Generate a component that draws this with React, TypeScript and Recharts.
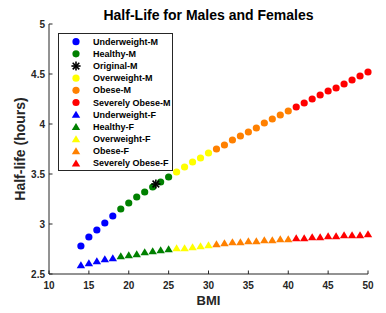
import React from 'react';
import { ScatterChart, Scatter, XAxis, YAxis } from 'recharts';

// BMI values 14..50
const bmi = [14, 15, 16, 17, 18, 19, 20, 21, 22, 23, 24, 25, 26, 27, 28, 29, 30, 31, 32, 33, 34, 35, 36, 37, 38, 39, 40, 41, 42, 43, 44, 45, 46, 47, 48, 49, 50];
const maleHalfLife = [2.78, 2.87, 2.94, 3.01, 3.08, 3.15, 3.21, 3.27, 3.32, 3.37, 3.42, 3.47, 3.52, 3.57, 3.62, 3.66, 3.71, 3.75, 3.79, 3.84, 3.88, 3.92, 3.96, 4.01, 4.05, 4.09, 4.13, 4.17, 4.21, 4.25, 4.29, 4.33, 4.36, 4.40, 4.44, 4.48, 4.52];
const femaleHalfLife = [2.59, 2.61, 2.63, 2.65, 2.66, 2.68, 2.69, 2.70, 2.72, 2.73, 2.74, 2.75, 2.76, 2.76, 2.77, 2.78, 2.79, 2.80, 2.81, 2.82, 2.82, 2.83, 2.83, 2.84, 2.84, 2.85, 2.85, 2.86, 2.86, 2.87, 2.87, 2.88, 2.88, 2.89, 2.89, 2.89, 2.90];
const originalM = [{ bmi: 23.4, h: 3.40 }];

// Categories: name, BMI range (inclusive), colour
const categories = ['Underweight', 'Healthy', 'Overweight', 'Obese', 'Severely Obese'];
const categoryMin = [14, 19, 26, 31, 41];
const categoryMax = [18, 25, 30, 40, 50];
const categoryColors = ['#0000FF', '#008000', '#FFFF00', '#FF8000', '#FF0000'];

const xTicks = [10, 15, 20, 25, 30, 35, 40, 45, 50];
const yTicks = [2.5, 3, 3.5, 4, 4.5, 5];

const AXIS = '#262626';
const FONT = '"Liberation Sans", Arial, Helvetica, sans-serif';

const build = (vals: number[], ci: number) =>
  bmi
    .map((b, i) => ({ bmi: b, h: vals[i] }))
    .filter((d) => d.bmi >= categoryMin[ci] && d.bmi <= categoryMax[ci]);

type Shape = 'circle' | 'triangle' | 'asterisk';
interface Series { name: string; color: string; shape: Shape; data: { bmi: number; h: number }[] }

const maleSeries: Series[] = categories.map((c, i) => ({ name: `${c}-M`, color: categoryColors[i], shape: 'circle' as Shape, data: build(maleHalfLife, i) }));
const femaleSeries: Series[] = categories.map((c, i) => ({ name: `${c}-F`, color: categoryColors[i], shape: 'triangle' as Shape, data: build(femaleHalfLife, i) }));
const originalSeries: Series = { name: 'Original-M', color: '#000000', shape: 'asterisk', data: originalM };

const legendOrder: Series[] = [maleSeries[0], maleSeries[1], originalSeries, maleSeries[2], maleSeries[3], maleSeries[4], ...femaleSeries];

function Marker({ cx, cy, shape, color }: { cx: number; cy: number; shape: Shape; color: string }) {
  if (cx == null || cy == null) return null;
  if (shape === 'circle') return <circle cx={cx} cy={cy} r={3.6} fill={color} />;
  if (shape === 'triangle')
    return <polygon points={`${cx},${cy - 3.8} ${cx + 4.2},${cy + 3.2} ${cx - 4.2},${cy + 3.2}`} fill={color} />;
  const r = 4.6;
  const d = r * 0.72;
  return (
    <g stroke={color} strokeWidth={1.6}>
      <line x1={cx - r} y1={cy} x2={cx + r} y2={cy} />
      <line x1={cx} y1={cy - r} x2={cx} y2={cy + r} />
      <line x1={cx - d} y1={cy - d} x2={cx + d} y2={cy + d} />
      <line x1={cx - d} y1={cy + d} x2={cx + d} y2={cy - d} />
    </g>
  );
}

const TICK_LEN = 3.5;

const BottomTick = (p: any) => {
  const axisY = p.y - 7;
  return (
    <g>
      <line x1={p.x} y1={axisY} x2={p.x} y2={axisY - TICK_LEN} stroke={AXIS} />
      <text x={p.x} y={p.y} dy="0.75em" textAnchor="middle" fontFamily={FONT} fontWeight="bold" fontSize={10} fill={AXIS}>
        {p.payload.value}
      </text>
    </g>
  );
};
const TopTick = (p: any) => (
  <line x1={p.x} y1={p.y} x2={p.x} y2={p.y + TICK_LEN} stroke={AXIS} />
);
const LeftTick = (p: any) => {
  const axisX = p.x + 4;
  return (
    <g>
      <line x1={axisX} y1={p.y} x2={axisX + TICK_LEN} y2={p.y} stroke={AXIS} />
      <text x={p.x} y={p.y} dy="0.35em" textAnchor="end" fontFamily={FONT} fontWeight="bold" fontSize={10} fill={AXIS}>
        {p.payload.value}
      </text>
    </g>
  );
};
const RightTick = (p: any) => (
  <line x1={p.x} y1={p.y} x2={p.x - TICK_LEN} y2={p.y} stroke={AXIS} />
);

const plotSeries: Series[] = [maleSeries[0], maleSeries[1], maleSeries[2], maleSeries[3], maleSeries[4], ...femaleSeries, originalSeries];

export default function App() {
  const legendX = 58.5;
  const legendY = 33.5;
  const legendW = 114;
  const legendH = 137;
  const rowH = 12.16;
  return (
    <div style={{ position: 'absolute', left: 0, top: 0, width: 386, height: 313, background: '#fff' }}>
      <ScatterChart width={386} height={313} margin={{ top: 24, right: 18, bottom: 0, left: 0 }}>
        <XAxis
          dataKey="bmi"
          type="number"
          domain={[10, 50]}
          ticks={xTicks}
          height={39}
          tickSize={0}
          tickMargin={7}
          axisLine={{ stroke: AXIS }}
          tick={BottomTick}
          interval={0}
        />
        <XAxis
          xAxisId="top"
          orientation="top"
          type="number"
          domain={[10, 50]}
          ticks={xTicks}
          height={0}
          tickSize={0}
          tickMargin={0}
          axisLine={{ stroke: AXIS }}
          tick={TopTick}
          interval={0}
        />
        <YAxis
          dataKey="h"
          type="number"
          domain={[2.5, 5]}
          ticks={yTicks}
          width={49}
          tickSize={0}
          tickMargin={4}
          axisLine={{ stroke: AXIS }}
          tick={LeftTick}
          interval={0}
        />
        <YAxis
          yAxisId="right"
          orientation="right"
          type="number"
          domain={[2.5, 5]}
          ticks={yTicks}
          width={0}
          tickSize={0}
          tickMargin={0}
          axisLine={{ stroke: AXIS }}
          tick={RightTick}
          interval={0}
        />
        {plotSeries.map((s) => (
          <Scatter
            key={s.name}
            name={s.name}
            data={s.data}
            isAnimationActive={false}
            shape={(p: any) => <Marker cx={p.cx} cy={p.cy} shape={s.shape} color={s.color} />}
          />
        ))}
      </ScatterChart>
      <svg width={386} height={313} style={{ position: 'absolute', left: 0, top: 0, pointerEvents: 'none' }}>
        <text x={208.5} y={19.5} textAnchor="middle" fontFamily={FONT} fontWeight="bold" fontSize={14} fill="#000">
          Half-Life for Males and Females
        </text>
        <text x={208.5} y={305} textAnchor="middle" fontFamily={FONT} fontWeight="bold" fontSize={13} fill={AXIS}>
          BMI
        </text>
        <text
          x={0}
          y={0}
          transform="translate(25,149) rotate(-90)"
          textAnchor="middle"
          fontFamily={FONT}
          fontWeight="bold"
          fontSize={14}
          fill={AXIS}
        >
          Half-life (hours)
        </text>
        <rect x={legendX} y={legendY} width={legendW} height={legendH} fill="#fff" stroke={AXIS} strokeWidth={1} />
        {legendOrder.map((s, i) => {
          const cy = 41.7 + i * rowH;
          return (
            <g key={s.name}>
              <Marker cx={76} cy={cy} shape={s.shape} color={s.color} />
              <text x={93} y={cy} dy="0.35em" fontFamily={FONT} fontWeight="bold" fontSize={9} fill="#000">
                {s.name}
              </text>
            </g>
          );
        })}
      </svg>
    </div>
  );
}
